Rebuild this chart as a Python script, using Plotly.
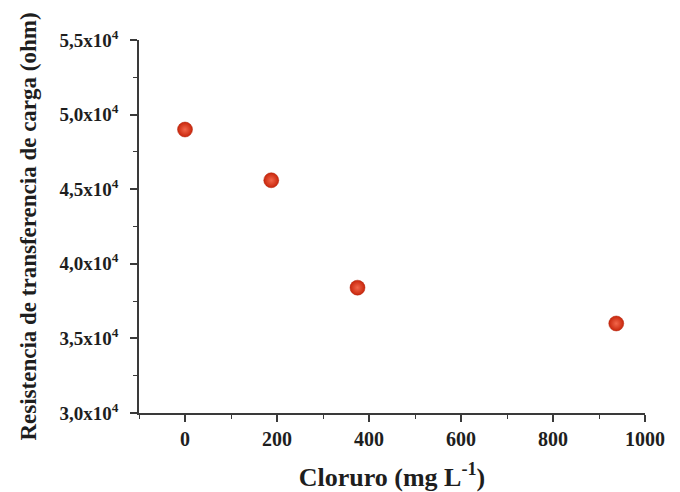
import plotly.graph_objects as go

cloruro = [0, 187.5, 375, 937.5]
resistencia = [49000, 45600, 38400, 36000]

y_ticks = [30000, 35000, 40000, 45000, 50000, 55000]
y_ticktext = ["<b>3,0x10<sup>4</sup></b>", "<b>3,5x10<sup>4</sup></b>", "<b>4,0x10<sup>4</sup></b>",
              "<b>4,5x10<sup>4</sup></b>", "<b>5,0x10<sup>4</sup></b>", "<b>5,5x10<sup>4</sup></b>"]
x_ticks = [0, 200, 400, 600, 800, 1000]
x_ticktext = ["<b>0</b>", "<b>200</b>", "<b>400</b>", "<b>600</b>", "<b>800</b>", "<b>1000</b>"]

font_family = "Liberation Serif, Times New Roman, serif"
axis_color = "#3a3a3a"
text_color = "#1e1e1e"

fig = go.Figure()
fig.add_trace(go.Scatter(
    x=cloruro, y=resistencia, mode="markers",
    marker=dict(size=15, color="#c8260c",
                gradient=dict(type="radial", color="#f2664a"),
                line=dict(width=0.5, color="#b2220a")),
    showlegend=False,
))

fig.update_layout(
    width=672, height=484,
    paper_bgcolor="white", plot_bgcolor="white",
    margin=dict(l=131, r=35, t=32, b=79),
    font=dict(family=font_family, color=text_color),
)
fig.update_xaxes(
    range=[-100, 1000], tickmode="array", tickvals=x_ticks, ticktext=x_ticktext,
    showgrid=False, zeroline=False, showline=True, linecolor=axis_color, linewidth=1.5,
    ticks="outside", ticklen=7, tickwidth=1.5, tickcolor=axis_color,
    minor=dict(ticks="outside", ticklen=4, tickwidth=1.2, tickcolor=axis_color, dtick=100, tick0=0, showgrid=False),
    tickfont=dict(family=font_family, size=20, color=text_color),
    automargin=False,
    title=dict(text="<b>Cloruro (mg L<sup>-1</sup>)</b>", standoff=26,
               font=dict(family=font_family, size=26, color=text_color)),
)
fig.update_yaxes(
    range=[30000, 55000], tickmode="array", tickvals=y_ticks, ticktext=y_ticktext,
    showgrid=False, zeroline=False, showline=True, linecolor=axis_color, linewidth=1.5,
    ticks="outside", ticklen=7, tickwidth=1.5, tickcolor=axis_color,
    minor=dict(ticks="outside", ticklen=4, tickwidth=1.2, tickcolor=axis_color, dtick=2500, tick0=30000, showgrid=False),
    tickfont=dict(family=font_family, size=19, color=text_color),
    ticklabelstandoff=8,
    automargin=False,
    title=dict(text="<b>Resistencia de transferencia de carga (ohm)</b>", standoff=16,
               font=dict(family=font_family, size=23, color=text_color)),
)

fig.write_html("out.html")
